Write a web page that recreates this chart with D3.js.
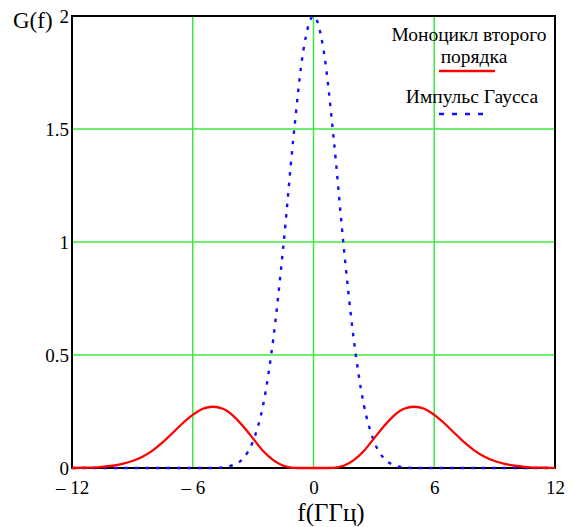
<!DOCTYPE html>
<html>
<head>
<meta charset="utf-8">
<script src="https://d3js.org/d3.v7.min.js"></script>
<style>
  body { margin: 0; background: #fff; }
  svg text { font-family: "Liberation Serif", "DejaVu Serif", serif; fill: #000; }
</style>
</head>
<body>
<div id="my_dataviz"></div>
<script>

// frequency grid (GHz)
var freqs = [-12,-11.5,-11,-10.5,-10,-9.5,-9,-8.5,-8,-7.5,-7,-6.5,-6,-5.5,-5,-4.5,-4,-3.5,-3,-2.5,-2,-1.5,-1,-0.5,
             0,0.5,1,1.5,2,2.5,3,3.5,4,4.5,5,5.5,6,6.5,7,7.5,8,8.5,9,9.5,10,10.5,11,11.5,12];

// second order monocycle spectrum
var monocycle = [0,0.001,0.002,0.005,0.01,0.018,0.031,0.05,0.077,0.113,0.155,0.198,0.235,0.262,0.271,0.262,0.232,0.185,0.13,0.075,0.035,0.01,0.001,0,
                 0,0,0.001,0.01,0.035,0.075,0.13,0.185,0.232,0.262,0.271,0.262,0.235,0.198,0.155,0.113,0.077,0.05,0.031,0.018,0.01,0.005,0.002,0.001,0];

// gaussian pulse spectrum
var gauss = [0,0,0,0,0,0,0,0,0,0,0,0,0,0,0,0.003,0.013,0.042,0.12,0.28,0.57,0.98,1.46,1.85,
             2,1.85,1.46,0.98,0.57,0.28,0.12,0.042,0.013,0.003,0,0,0,0,0,0,0,0,0,0,0,0,0,0,0];

var xTicks = [-12,-6,0,6,12];
var yTicks = [0,0.5,1,1.5,2];
var legendNames = ["Моноцикл второго", "порядка", "Импульс Гаусса"];

var serif = "'Liberation Serif', 'DejaVu Serif', serif";

var margin = {top: 16, right: 19, bottom: 59, left: 72},
  width = 574 - margin.left - margin.right,
  height = 527 - margin.top - margin.bottom;

var svg = d3.select("#my_dataviz")
  .append("svg")
    .attr("width", 574)
    .attr("height", 527)
  .append("g")
    .attr("transform", "translate(" + margin.left + "," + margin.top + ")");

var x = d3.scaleLinear().domain([-12, 12]).range([0, width]);
var y = d3.scaleLinear().domain([0, 2]).range([height, 0]);

// green grid
svg.append("g")
  .selectAll("line")
  .data([-6, 0, 6])
  .enter().append("line")
    .attr("x1", function(d) { return x(d); })
    .attr("x2", function(d) { return x(d); })
    .attr("y1", 0).attr("y2", height)
    .style("stroke", "#3ee83e").style("stroke-width", 1.5);

svg.append("g")
  .selectAll("line")
  .data([0.5, 1, 1.5])
  .enter().append("line")
    .attr("y1", function(d) { return y(d); })
    .attr("y2", function(d) { return y(d); })
    .attr("x1", 0).attr("x2", width)
    .style("stroke", "#3ee83e").style("stroke-width", 1.5);

// frame
svg.append("rect")
  .attr("x", 0).attr("y", 0)
  .attr("width", width).attr("height", height)
  .style("fill", "none").style("stroke", "#000").style("stroke-width", 2);

// axes (labels only, Mathcad style)
var xAxis = svg.append("g")
  .attr("transform", "translate(0," + height + ")")
  .attr("font-family", serif)
  .call(d3.axisBottom(x).tickValues(xTicks).tickSize(0).tickPadding(12)
    .tickFormat(function(d) { return d < 0 ? "\u2013 " + Math.abs(d) : d; }));
xAxis.select(".domain").remove();
xAxis.selectAll("text")
  .style("font-family", serif)
  .style("font-size", "19px")
  .attr("dy", "0.75em");

var yAxis = svg.append("g")
  .attr("font-family", serif)
  .call(d3.axisLeft(y).tickValues(yTicks).tickSize(0).tickPadding(3)
    .tickFormat(function(d) { return d; }));
yAxis.select(".domain").remove();
yAxis.selectAll("text")
  .style("font-family", serif)
  .style("font-size", "19px")
  .attr("dy", "0.35em");

// curves
var points = function(vals) {
  return freqs.map(function(f, i) { return {f: f, v: vals[i]}; });
};
var line = d3.line()
  .x(function(d) { return x(d.f); })
  .y(function(d) { return y(d.v); })
  .curve(d3.curveMonotoneX);

svg.append("path")
  .datum(points(gauss))
  .attr("d", line)
  .style("fill", "none")
  .style("stroke", "#1010ff")
  .style("stroke-width", 2.4)
  .style("stroke-dasharray", "3.5,7");

svg.append("path")
  .datum(points(monocycle))
  .attr("d", line)
  .style("fill", "none")
  .style("stroke", "#ff0000")
  .style("stroke-width", 2.3);

// axis titles
svg.append("text")
  .attr("x", 13 - margin.left)
  .attr("y", 28 - margin.top)
  .style("font-family", serif)
  .style("font-size", "23px")
  .text("G(f)");

svg.append("text")
  .attr("x", 331 - margin.left)
  .attr("y", 521 - margin.top)
  .attr("text-anchor", "middle")
  .style("font-family", serif)
  .style("font-size", "25px")
  .text("f(ГГц)");

// legend
var lg = svg.append("g").attr("transform", "translate(" + (-margin.left) + "," + (-margin.top) + ")")
  .style("font-family", serif);
lg.append("text").attr("x", 469).attr("y", 41).attr("text-anchor", "middle")
  .style("font-size", "19.5px").text(legendNames[0]);
lg.append("text").attr("x", 474).attr("y", 63).attr("text-anchor", "middle")
  .style("font-size", "19.5px").text(legendNames[1]);
lg.append("line").attr("x1", 439).attr("x2", 495).attr("y1", 71).attr("y2", 71)
  .style("stroke", "#ff0000").style("stroke-width", 2.3);
lg.append("text").attr("x", 472).attr("y", 103).attr("text-anchor", "middle")
  .style("font-size", "19.5px").text(legendNames[2]);
lg.append("line").attr("x1", 439).attr("x2", 487).attr("y1", 114).attr("y2", 114)
  .style("stroke", "#1010ff").style("stroke-width", 2.4).style("stroke-dasharray", "5,8");

</script>
</body>
</html>
